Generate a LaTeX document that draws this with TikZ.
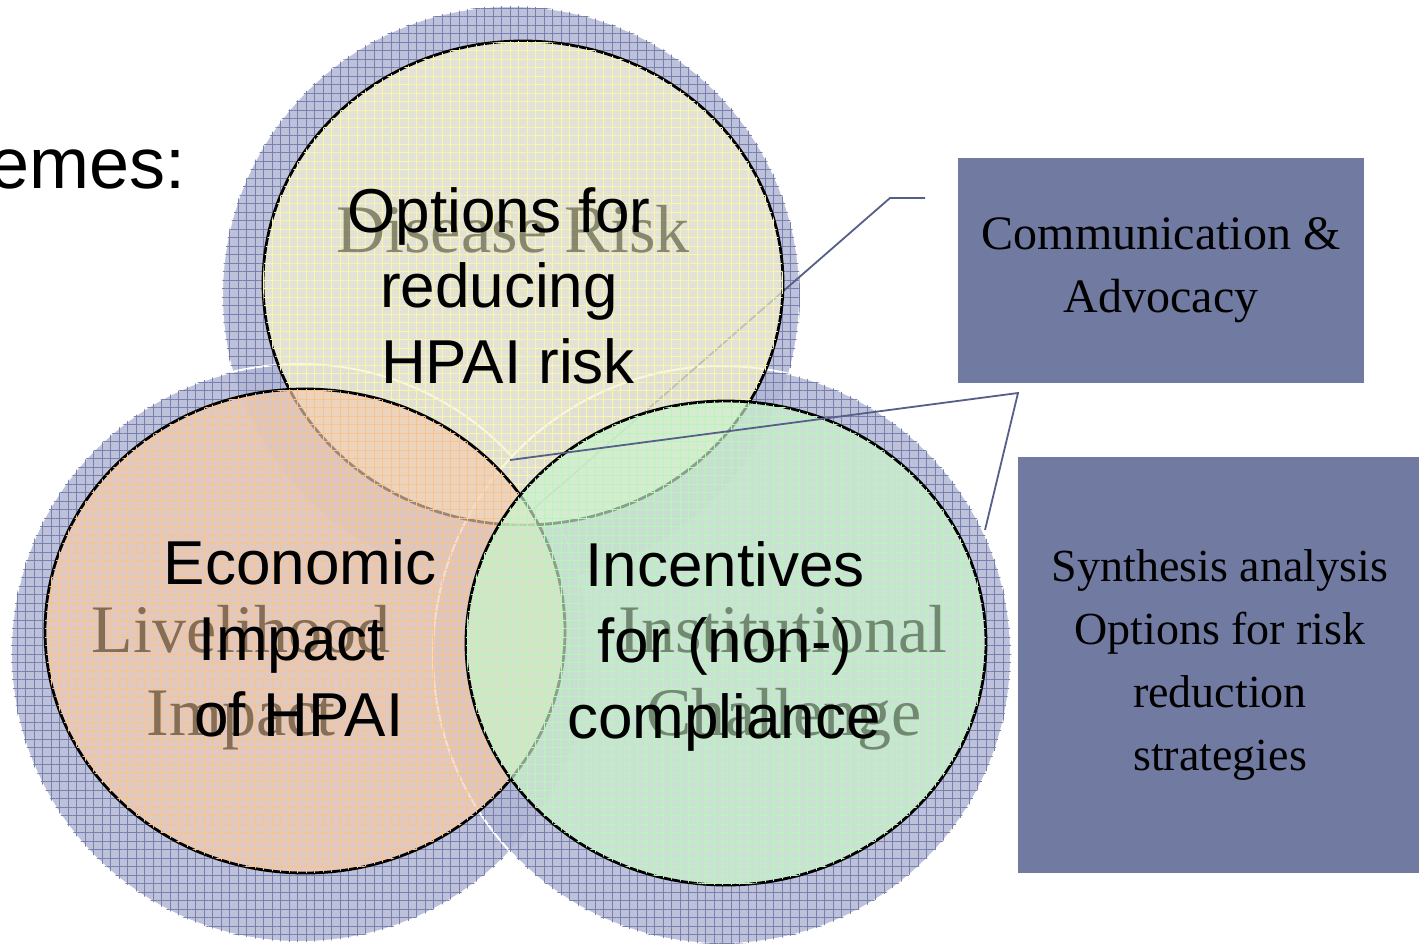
\documentclass[tikz,border=0pt]{standalone}
\usepackage{fontspec}
\setmainfont{Liberation Serif}
\newfontfamily\arialf{Liberation Sans}
\usetikzlibrary{shapes.geometric,patterns.meta}
\definecolor{bluefill}{RGB}{178,184,212}
\definecolor{bluegrid}{RGB}{120,128,176}
\definecolor{yfill}{RGB}{246,244,212}
\definecolor{ofill}{RGB}{244,206,178}
\definecolor{gfill}{RGB}{208,244,208}
\definecolor{ygrid}{RGB}{250,244,175}
\definecolor{ogrid}{RGB}{250,195,140}
\definecolor{ggrid}{RGB}{185,245,185}
\definecolor{boxfill}{RGB}{113,122,161}
\definecolor{linecol}{RGB}{85,95,135}
\definecolor{dtext}{RGB}{100,100,72}
\definecolor{ltext}{RGB}{98,76,48}
\definecolor{itext}{RGB}{82,102,78}
\begin{document}
\begin{tikzpicture}[x=1pt,y=-1pt,
  bigcirc/.style={circle, minimum size=578pt, inner sep=0pt, fill=bluefill,
    fill opacity=0.85, draw=white, line width=2pt,
    postaction={draw=none, fill opacity=0.4, pattern={Hatch[distance=8.5pt,angle=0,line width=0.8pt]}, pattern color=bluegrid}},
  venn/.style={ellipse, minimum width=520pt, minimum height=484pt, inner sep=0pt,
    draw=black, line width=2.8pt, fill opacity=0.66},
  vgrid/.style={postaction={draw=none, fill opacity=0.35, pattern={Hatch[distance=8.5pt,angle=0,line width=0.7pt]}, pattern color=#1}},
  maintext/.style={font=\arialf\fontsize{62}{75}\selectfont, anchor=base, inner sep=0pt, text=black},
  ghost/.style={font=\fontsize{68}{80}\selectfont, anchor=base, inner sep=0pt, text opacity=0.72},
  conn/.style={draw=linecol, line width=1.8pt},
  sidebox/.style={fill=boxfill, draw=none, inner sep=0pt, align=center, text=black}
]
\fill[white] (0,0) rectangle (1419,943);
\useasboundingbox (0,0) rectangle (1419,943);

% title fragment
\node[font=\arialf\fontsize{72}{80}\selectfont, anchor=base east, inner sep=0pt] (title) at (186,188) {emes:};

% big blue circles
\node[bigcirc] (ctop) at (511,295) {};
\node[bigcirc] (cleft) at (300,653) {};
\node[bigcirc] (cright) at (722,655) {};

% callout line behind the ellipses
\coordinate (c1a) at (925,198);
\coordinate (c1b) at (890,198);
\coordinate (c1c) at (530,512);
\draw[conn] (c1a) -- (c1b) -- (c1c);

% coloured ellipses
\node[venn, fill=yfill, vgrid=ygrid] (etop) at (523,283) {};
\node[venn, fill=ofill, vgrid=ogrid] (eleft) at (305,631) {};
\node[venn, fill=gfill, vgrid=ggrid] (eright) at (726,643) {};

% ghost labels
\node[ghost, text=dtext] (gdis) at (513,252) {Disease Risk};
\node[ghost, text=ltext] (gliv1) at (241,652) {Livelihood};
\node[ghost, text=ltext] (gliv2) at (241,735) {Impact};
\node[ghost, text=itext] (ginst1) at (783,652) {Institutional};
\node[ghost, text=itext] (ginst2) at (784,735) {Challenge};

% main labels
\node[maintext] (t1) at (499,232) {Options for};
\node[maintext] (t2) at (499,307) {reducing};
\node[maintext] (t3) at (508,383) {HPAI risk};
\node[maintext] (l1) at (300,584) {Economic};
\node[maintext] (l2) at (292,660) {Impact};
\node[maintext] (l3) at (299,736) {of HPAI};
\node[maintext] (r1) at (725,586) {Incentives};
\node[maintext] (r2) at (725,662) {for (non-)};
\node[maintext] (r3) at (724,738) {compliance};

% side boxes
\node[sidebox, minimum width=406pt, minimum height=225pt, font=\fontsize{48}{63}\selectfont] (comm) at (1161,270) {Communication \&\\Advocacy};
\node[sidebox, minimum width=404pt, minimum height=416pt, font=\fontsize{46}{63}\selectfont] (synth) at (1220,665) {Synthesis analysis\\Options for risk\\reduction\\strategies};

% callout line in front
\coordinate (c2a) at (510,460);
\coordinate (c2b) at (1018,393);
\coordinate (c2c) at (985,530);
\draw[conn] (c2a) -- (c2b) -- (c2c);
\end{tikzpicture}
\end{document}
